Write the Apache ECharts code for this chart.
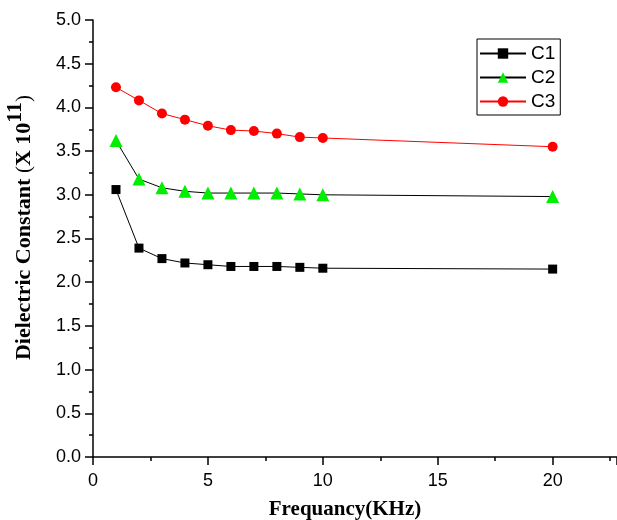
<!DOCTYPE html>
<html>
<head>
<meta charset="utf-8">
<script src="https://cdn.jsdelivr.net/npm/echarts@6/dist/echarts.min.js"></script>
<style>
html,body{margin:0;padding:0;background:#fff;}
#main{width:617px;height:520px;}
</style>
</head>
<body>
<div id="main"></div>
<script>
// 数据
var freq = [1, 2, 3, 4, 5, 6, 7, 8, 9, 10, 20]
var c1 = [3.06, 2.39, 2.27, 2.22, 2.20, 2.18, 2.18, 2.18, 2.17, 2.16, 2.15]
var c2 = [3.62, 3.18, 3.08, 3.04, 3.02, 3.02, 3.02, 3.02, 3.01, 3.00, 2.98]
var c3 = [4.23, 4.08, 3.93, 3.86, 3.79, 3.74, 3.73, 3.70, 3.66, 3.65, 3.55]

function pairs(ys){
	var out = []
	for (var i = 0; i < freq.length; i++) out.push([freq[i], ys[i]])
	return out
}

var myChart = echarts.init(document.getElementById('main'))
var option = {
	backgroundColor: '#fff',
	animation: false,
	grid: {
		left: 93,
		right: 0,
		top: 20,
		bottom: 63,
		containLabel: false,
		outerBoundsMode: 'none'
	},
	legend: {
		orient: 'vertical',
		left: 477,
		top: 39,
		itemWidth: 46,
		itemHeight: 13,
		itemGap: 5,
		padding: [5, 5, 4, 2],
		borderColor: '#000',
		borderWidth: 1,
		backgroundColor: '#fff',
		textStyle: {
			fontFamily: 'Liberation Sans',
			fontSize: 19,
			color: '#000'
		},
		data: ['C1', 'C2', 'C3']
	},
	xAxis: {
		type: 'value',
		min: 0,
		max: 22.8,
		interval: 5,
		name: 'Frequancy(KHz)',
		nameLocation: 'middle',
		nameGap: 42,
		nameTextStyle: {
			fontFamily: 'Liberation Serif',
			fontWeight: 'bold',
			fontSize: 21,
			color: '#000',
			padding: [0, 20, 0, 0]
		},
		splitLine: {show: false},
		axisLine: {onZero: false, lineStyle: {color: '#000', width: 1.5}},
		axisTick: {show: true, inside: false, length: 8, lineStyle: {color: '#000', width: 1.5}},
		minorTick: {show: true, splitNumber: 2, length: 4, lineStyle: {color: '#000', width: 1.5}},
		axisLabel: {
			showMaxLabel: false,
			margin: 15,
			fontFamily: 'Liberation Sans',
			fontSize: 18,
			color: '#000'
		}
	},
	yAxis: {
		type: 'value',
		min: 0,
		max: 5,
		interval: 0.5,
		name: '{b|Dielectric Constant }{t|(}{b|X 10}{s|11}{t|)}',
		nameLocation: 'middle',
		nameGap: 58,
		nameTextStyle: {
			color: '#000',
			padding: [0, 0, 0, 22],
			rich: {
				b: {fontFamily: 'Liberation Serif', fontWeight: 'bold', fontSize: 22, color: '#000', verticalAlign: 'bottom'},
				t: {fontFamily: 'Liberation Serif', fontSize: 21, color: '#000', verticalAlign: 'bottom'},
				s: {fontFamily: 'Liberation Serif', fontWeight: 'bold', fontSize: 22, color: '#000', verticalAlign: 'bottom', padding: [0, 0, 9, 0]}
			}
		},
		splitLine: {show: false},
		axisLine: {show: true, lineStyle: {color: '#000', width: 1.5}},
		axisTick: {show: true, inside: false, length: 8, lineStyle: {color: '#000', width: 1.5}},
		minorTick: {show: true, splitNumber: 2, length: 4, lineStyle: {color: '#000', width: 1.5}},
		axisLabel: {
			margin: 12,
			fontFamily: 'Liberation Sans',
			fontSize: 18,
			color: '#000',
			formatter: function(v){ return v.toFixed(1) }
		}
	},
	series: [
		{
			name: 'C1',
			type: 'line',
			data: pairs(c1),
			symbol: 'rect',
			symbolSize: 9,
			lineStyle: {color: '#000', width: 1},
			itemStyle: {color: '#000'}
		},
		{
			name: 'C2',
			type: 'line',
			data: pairs(c2),
			symbol: 'triangle',
			symbolSize: 13,
			lineStyle: {color: '#000', width: 1},
			itemStyle: {color: '#00ee00'}
		},
		{
			name: 'C3',
			type: 'line',
			data: pairs(c3),
			symbol: 'circle',
			symbolSize: 10,
			lineStyle: {color: '#ff0000', width: 1},
			itemStyle: {color: '#ff0000'}
		}
	]
}
myChart.setOption(option)
</script>
</body>
</html>
